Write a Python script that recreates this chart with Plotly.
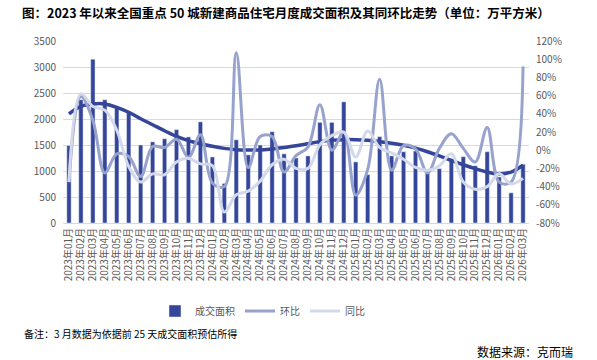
import plotly.graph_objects as go

months = [f"{y}年{m:02d}月" for y, m in
          [(2023, m) for m in range(1, 13)] + [(2024, m) for m in range(1, 13)] +
          [(2025, m) for m in range(1, 13)] + [(2026, m) for m in range(1, 4)]]

area = [1490, 2370, 3150, 2370, 2250, 2120, 1500, 1560, 1620, 1795, 1655, 1945,
        1270, 760, 1600, 1310, 1500, 1755, 1330, 1250, 1290, 1935, 1935, 2330,
        1175, 930, 1660, 1290, 1370, 1385, 1025, 1045, 1235, 1275, 1100, 1370,
        885, 580, 1130]

mom = [-35, 59, 33, -25, -4, -7, -29, 4, 3, 12, -8, 17,
       -36, -40, 107, -19, 15, 15, -24, -6, 3.5, 50, 0, 20,
       -49.5, -21, 78, -22, 5, 1.5, -25, 2, 18, 2, -13, 25,
       -35, -35, 92]

yoy = [-35, 62, 48, 44, 22, -18, -35, -26, -27, -13, -9, -15,
       -17, -68, -49, -45, -34, -16, -10, -20, -20, 6, 16, 20,
       -7.5, 21, 3, -3, -10, -19, -22, -17, -4, -35, -43, -40,
       -26, -37, -31]

trend = [2100, 2245, 2290, 2290, 2225, 2130, 2005, 1890, 1775, 1665, 1585, 1525,
         1475, 1435, 1410, 1405, 1405, 1425, 1450, 1485, 1525, 1565, 1590, 1603,
         1603, 1590, 1565, 1535, 1495, 1440, 1370, 1290, 1205, 1120, 1045, 980,
         940, 980, 1110]

left_ticks = list(range(0, 3501, 500))
right_ticks = list(range(-80, 121, 20))
right_labels = [f"{v}%" for v in right_ticks]

FONT = "Noto Sans CJK SC"
GRAY = "#595959"
DARK = "#34459A"
MID = "#97A2CD"
LIGHT = "#D3D8EB"

fig = go.Figure()
fig.add_trace(go.Bar(x=months, y=area, name="成交面积", marker_color=DARK,
                     width=0.36, yaxis="y"))
fig.add_trace(go.Scatter(x=months, y=mom, name="环比", mode="lines",
                         line=dict(color=MID, width=3, shape="spline", smoothing=1),
                         yaxis="y2"))
fig.add_trace(go.Scatter(x=months, y=yoy, name="同比", mode="lines",
                         line=dict(color=LIGHT, width=3, shape="spline", smoothing=1),
                         yaxis="y2"))
fig.add_trace(go.Scatter(x=months, y=trend, name="趋势", mode="lines", showlegend=False,
                         line=dict(color=DARK, width=3.5, shape="spline", smoothing=1),
                         yaxis="y"))

fig.update_layout(
    width=597, height=360,
    margin=dict(l=63, r=68, t=41, b=137, autoexpand=False),
    paper_bgcolor="white", plot_bgcolor="white",
    font=dict(family=FONT, size=10, color=GRAY),
    title=dict(text="<b>图：2023 年以来全国重点 50 城新建商品住宅月度成交面积及其同环比走势（单位：万平方米）</b>",
               x=22/597, xanchor="left", xref="container",
               y=1-14/360, yanchor="middle", yref="container",
               font=dict(family=FONT, size=12.5, color="#000000")),
    xaxis=dict(type="category", tickangle=-90, showgrid=False, automargin=False,
               tickmode="array", tickvals=months, ticktext=months,
               showline=True, linecolor="#D9D9D9", linewidth=1,
               ticks="", tickfont=dict(size=10, color=GRAY)),
    yaxis=dict(range=[0, 3500], tickmode="array", tickvals=left_ticks,
               ticktext=[str(v) for v in left_ticks], showgrid=True, automargin=False,
               gridcolor="#D9D9D9", gridwidth=1, zeroline=False,
               tickfont=dict(size=10, color=GRAY), ticks="", ticklabelstandoff=6),
    yaxis2=dict(range=[-80, 120], tickmode="array", tickvals=right_ticks,
                ticktext=right_labels, automargin=False,
                overlaying="y", side="right", showgrid=False, zeroline=False,
                tickfont=dict(size=10, color=GRAY), ticks="", ticklabelstandoff=6),
    legend=dict(orientation="h", xref="container", yref="container",
                x=155/597, xanchor="left", y=1-311/360, yanchor="middle",
                font=dict(size=10, color=GRAY), itemwidth=30,
                tracegroupgap=0, bgcolor="rgba(0,0,0,0)"),
    annotations=[
        dict(text="备注：3 月数据为依据前 25 天成交面积预估所得", xref="paper", yref="paper",
             x=(22-63)/466, y=(223-333)/182, xanchor="left", yanchor="middle",
             showarrow=False, font=dict(family=FONT, size=10, color="#000000")),
        dict(text="数据来源：克而瑞", xref="paper", yref="paper",
             x=(575-63)/466, y=(223-351)/182, xanchor="right", yanchor="middle",
             showarrow=False, font=dict(family=FONT, size=12, color="#000000")),
    ],
)

fig.write_html("out.html", config={"displayModeBar": False},
               post_script="document.body.style.margin='0px';document.body.style.overflow='hidden';")
